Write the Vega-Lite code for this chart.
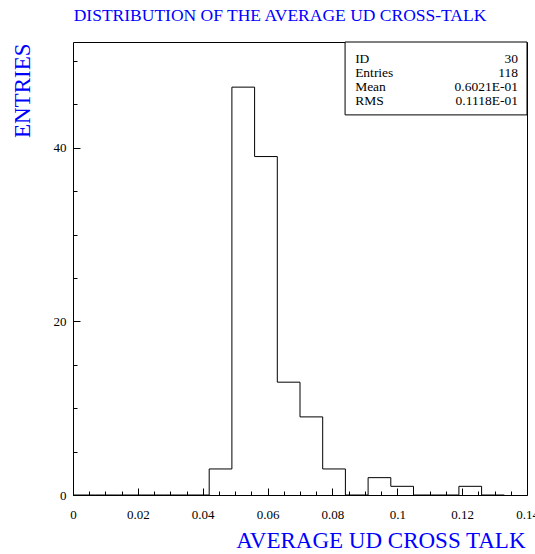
{
  "$schema": "https://vega.github.io/schema/vega-lite/v6.json",
  "width": 454,
  "height": 453,
  "autosize": {"type": "none"},
  "padding": {"left": 73, "top": 42, "right": 8, "bottom": 59},
  "background": "white",
  "config": {
    "view": {"stroke": "black", "strokeWidth": 1},
    "font": "Liberation Serif",
    "axis": {"grid": false, "domain": false, "tickWidth": 1, "labelFont": "Liberation Serif", "titleFont": "Liberation Serif", "tickColor": "black", "labelColor": "black", "zindex": 1}
  },
  "title": {
    "text": "DISTRIBUTION OF THE AVERAGE UD CROSS-TALK",
    "anchor": "middle",
    "font": "Liberation Serif",
    "fontSize": 17.5,
    "fontWeight": "normal",
    "color": "#0000ff",
    "offset": 17,
    "dx": -20
  },
  "datasets": {
    "hist": [
      {"bin_start": 0.000, "entries": 0},
      {"bin_start": 0.007, "entries": 0},
      {"bin_start": 0.014, "entries": 0},
      {"bin_start": 0.021, "entries": 0},
      {"bin_start": 0.028, "entries": 0},
      {"bin_start": 0.035, "entries": 0},
      {"bin_start": 0.042, "entries": 3},
      {"bin_start": 0.049, "entries": 47},
      {"bin_start": 0.056, "entries": 39},
      {"bin_start": 0.063, "entries": 13},
      {"bin_start": 0.070, "entries": 9},
      {"bin_start": 0.077, "entries": 3},
      {"bin_start": 0.084, "entries": 0},
      {"bin_start": 0.091, "entries": 2},
      {"bin_start": 0.098, "entries": 1},
      {"bin_start": 0.105, "entries": 0},
      {"bin_start": 0.112, "entries": 0},
      {"bin_start": 0.119, "entries": 1},
      {"bin_start": 0.126, "entries": 0},
      {"bin_start": 0.133, "entries": 0}
    ],
    "stats": [
      {"stat": "ID", "value": "30"},
      {"stat": "Entries", "value": "118"},
      {"stat": "Mean", "value": "0.6021E-01"},
      {"stat": "RMS", "value": "0.1118E-01"}
    ]
  },
  "layer": [
    {
      "data": {"name": "hist"},
      "mark": {"type": "line", "interpolate": "step-after", "color": "black", "strokeWidth": 1},
      "encoding": {
        "x": {
          "field": "bin_start", "type": "quantitative",
          "scale": {"domain": [0, 0.14], "nice": false, "zero": false},
          "axis": {
            "orient": "bottom",
            "values": [0, 0.005, 0.01, 0.015, 0.02, 0.025, 0.03, 0.035, 0.04, 0.045, 0.05, 0.055, 0.06, 0.065, 0.07, 0.075, 0.08, 0.085, 0.09, 0.095, 0.1, 0.105, 0.11, 0.115, 0.12, 0.125, 0.13, 0.135, 0.14],
            "ticks": true,
            "tickSize": {"condition": {"test": "abs(datum.value / 0.02 - round(datum.value / 0.02)) < 0.001", "value": -7}, "value": -4},
            "labelPadding": 20,
            "labelFontSize": 13,
            "labelFlush": false,
            "labelOverlap": false,
            "labelExpr": "abs(datum.value / 0.02 - round(datum.value / 0.02)) < 0.001 ? (datum.value === 0 ? '0' : format(datum.value, '.2~f')) : ''",
            "title": "AVERAGE UD CROSS TALK",
            "titleFontSize": 23,
            "titleFontWeight": "normal",
            "titleColor": "#0000ff",
            "titleAnchor": null,
            "titleAlign": "right",
            "titleBaseline": "alphabetic",
            "titleX": 452,
            "titleY": 52
          }
        },
        "y": {
          "field": "entries", "type": "quantitative",
          "scale": {"domain": [0, 52.2], "nice": false, "zero": true},
          "axis": {
            "orient": "left",
            "values": [0, 5, 10, 15, 20, 25, 30, 35, 40, 45, 50],
            "ticks": true,
            "tickSize": {"condition": {"test": "datum.value % 20 === 0", "value": -7}, "value": -4},
            "labelPadding": 14,
            "labelFontSize": 13,
            "labelFlush": false,
            "labelOverlap": false,
            "labelExpr": "datum.value % 20 === 0 ? datum.label : ''",
            "title": "ENTRIES",
            "titleFontSize": 23,
            "titleFontWeight": "normal",
            "titleColor": "#0000ff",
            "titleAnchor": null,
            "titleAngle": -90,
            "titleAlign": "right",
            "titleBaseline": "middle",
            "titleX": -51,
            "titleY": 1
          }
        }
      }
    },
    {
      "data": {"values": [{}]},
      "mark": {"type": "rect", "fill": "white", "stroke": "black", "strokeWidth": 1},
      "encoding": {
        "x": {"datum": 0.0839, "type": "quantitative", "axis": null},
        "x2": {"datum": 0.14},
        "y": {"datum": 43.8, "type": "quantitative",
          "scale": {"domain": [0, 52.2], "nice": false, "zero": true},
          "axis": null},
        "y2": {"datum": 52.2}
      }
    },
    {
      "data": {"name": "stats"},
      "mark": {"type": "text", "align": "left", "baseline": "middle", "fontSize": 13.5, "font": "Liberation Serif", "color": "black"},
      "encoding": {
        "x": {"datum": 0.087, "type": "quantitative", "axis": null},
        "y": {"field": "stat", "type": "nominal",
          "scale": {"type": "point", "domain": ["ID", "Entries", "Mean", "RMS"], "range": [9.5, 65.5]},
          "axis": null},
        "text": {"field": "stat"}
      }
    },
    {
      "data": {"name": "stats"},
      "mark": {"type": "text", "align": "right", "baseline": "middle", "fontSize": 13.5, "font": "Liberation Serif", "color": "black"},
      "encoding": {
        "x": {"datum": 0.1372, "type": "quantitative", "axis": null},
        "y": {"field": "stat", "type": "nominal",
          "scale": {"type": "point", "domain": ["ID", "Entries", "Mean", "RMS"], "range": [9.5, 65.5]},
          "axis": null},
        "text": {"field": "value"}
      }
    }
  ],
  "resolve": {"scale": {"y": "independent"}, "axis": {"x": "independent", "y": "independent"}}
}
